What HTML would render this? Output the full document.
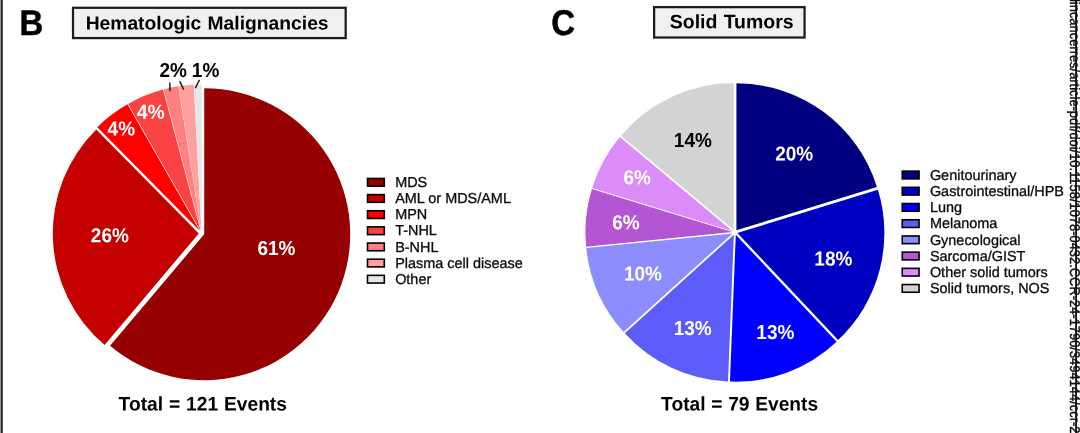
<!DOCTYPE html>
<html><head><meta charset="utf-8"><title>Pie charts</title>
<style>
html,body{margin:0;padding:0;background:#fff;}
body{width:1080px;height:433px;overflow:hidden;position:relative;font-family:"Liberation Sans",sans-serif;}
svg{position:absolute;left:0;top:0;display:block;filter:blur(0.35px)}
svg text{font-family:"Liberation Sans",sans-serif;text-rendering:geometricPrecision;}
</style></head><body>
<svg width="1080" height="433" viewBox="0 0 1080 433">
<rect width="1080" height="433" fill="#fff"/>
<rect x="0.55" y="0" width="2.2" height="433" fill="#1e1e1e"/>
<rect x="73.03" y="7.78" width="272.65" height="30.30" fill="#F0F0F0" stroke="#1c1c1c" stroke-width="2.25"/>
<rect x="654.12" y="7.12" width="150.45" height="30.40" fill="#F0F0F0" stroke="#1c1c1c" stroke-width="2.25"/>
<path d="M204.23 234.26L204.23 88.26A146.0 146.0 0 1 1 110.06 345.83Z" fill="#960000"/>
<path d="M198.80 233.41L104.63 344.98A146.0 146.0 0 0 1 96.24 129.50Z" fill="#C40000"/>
<path d="M199.91 231.07L97.34 127.16A146.0 146.0 0 0 1 127.46 104.32Z" fill="#FF0000"/>
<path d="M200.54 230.71L128.08 103.96A146.0 146.0 0 0 1 163.05 89.60Z" fill="#F94343"/>
<path d="M201.02 230.56L163.54 89.45A146.0 146.0 0 0 1 178.37 86.33Z" fill="#FF8080"/>
<path d="M201.31 230.52L178.66 86.28A146.0 146.0 0 0 1 193.73 84.71Z" fill="#FFA0A0"/>
<path d="M201.53 230.50L193.95 84.70A146.0 146.0 0 0 1 201.53 84.50Z" fill="#E6E6E6"/>
<path d="M736.42 230.30L736.42 83.30A147.0 147.0 0 0 1 876.93 187.10Z" fill="#000080"/>
<path d="M737.37 233.00L877.88 189.81A147.0 147.0 0 0 1 838.16 340.00Z" fill="#0000C0"/>
<path d="M735.79 234.74L836.59 341.74A147.0 147.0 0 0 1 729.95 381.62Z" fill="#0000FF"/>
<path d="M733.82 234.66L727.98 381.54A147.0 147.0 0 0 1 624.84 333.31Z" fill="#5C5CF8"/>
<path d="M732.57 233.38L623.59 332.04A147.0 147.0 0 0 1 586.29 247.97Z" fill="#8C8CFC"/>
<path d="M732.36 232.10L586.09 246.69A147.0 147.0 0 0 1 591.85 188.90Z" fill="#B455D4"/>
<path d="M732.66 231.13L592.15 187.94A147.0 147.0 0 0 1 619.84 136.89Z" fill="#DC8CF8"/>
<path d="M733.82 230.04L621.00 135.80A147.0 147.0 0 0 1 733.82 83.04Z" fill="#D3D3D3"/>
<g stroke="#1a1a1a" stroke-width="1.45" fill="none">
<path d="M169.9 82.5V91.2"/><path d="M179.7 81.1L183.7 89.6"/><path d="M199.4 79.9L195.3 88.3"/>
</g>
<text transform="translate(19.52 34.90) rotate(0.03) scale(0.92 1)" font-size="35.80" font-weight="bold" fill="#000" stroke="#000" stroke-width="0.5">B</text>
<text transform="translate(551.18 34.90) rotate(0.03) scale(0.92 1)" font-size="35.80" font-weight="bold" fill="#000" stroke="#000" stroke-width="0.5">C</text>
<text transform="translate(85.64 29.40) rotate(0.03) scale(1.02 1)" font-size="18.90" font-weight="bold" word-spacing="0.930" fill="#000">Hematologic Malignancies</text>
<text transform="translate(669.71 28.25) rotate(0.03) scale(1.0 1)" font-size="19.50" font-weight="bold" word-spacing="0.854" fill="#000">Solid Tumors</text>
<text transform="translate(118.61 410.50) rotate(0.03) scale(0.977 1)" font-size="19.65" font-weight="bold" word-spacing="0.598" fill="#000">Total = 121 Events</text>
<text transform="translate(661.11 410.40) rotate(0.03) scale(0.977 1)" font-size="19.65" font-weight="bold" word-spacing="0.386" fill="#000">Total = 79 Events</text>
<text transform="translate(257.43 254.95) rotate(0.03) scale(0.94 1)" font-size="20.20" font-weight="bold" fill="#fff">61%</text>
<text transform="translate(90.83 242.25) rotate(0.03) scale(0.94 1)" font-size="20.20" font-weight="bold" fill="#fff">26%</text>
<text transform="translate(107.61 135.55) rotate(0.03) scale(0.94 1)" font-size="20.20" font-weight="bold" fill="#fff">4%</text>
<text transform="translate(137.11 118.65) rotate(0.03) scale(0.94 1)" font-size="20.20" font-weight="bold" fill="#fff">4%</text>
<text transform="translate(159.43 77.05) rotate(0.03) scale(0.94 1)" font-size="20.20" font-weight="bold" fill="#000">2%</text>
<text transform="translate(191.86 77.05) rotate(0.03) scale(0.94 1)" font-size="20.20" font-weight="bold" fill="#000">1%</text>
<text transform="translate(673.86 147.05) rotate(0.03) scale(0.94 1)" font-size="20.20" font-weight="bold" fill="#000">14%</text>
<text transform="translate(775.13 160.45) rotate(0.03) scale(0.94 1)" font-size="20.20" font-weight="bold" fill="#fff">20%</text>
<text transform="translate(814.36 265.45) rotate(0.03) scale(0.94 1)" font-size="20.20" font-weight="bold" fill="#fff">18%</text>
<text transform="translate(756.36 339.05) rotate(0.03) scale(0.94 1)" font-size="20.20" font-weight="bold" fill="#fff">13%</text>
<text transform="translate(673.66 334.95) rotate(0.03) scale(0.94 1)" font-size="20.20" font-weight="bold" fill="#fff">13%</text>
<text transform="translate(623.96 280.45) rotate(0.03) scale(0.94 1)" font-size="20.20" font-weight="bold" fill="#fff">10%</text>
<text transform="translate(612.23 229.15) rotate(0.03) scale(0.94 1)" font-size="20.20" font-weight="bold" fill="#fff">6%</text>
<text transform="translate(623.43 184.35) rotate(0.03) scale(0.94 1)" font-size="20.20" font-weight="bold" fill="#fff">6%</text>
<text x="395.13" y="186.90" font-size="14.45" fill="#0a0a0a" stroke="#0a0a0a" stroke-width="0.3">MDS</text>
<text x="395.13" y="203.05" font-size="14.45" fill="#0a0a0a" stroke="#0a0a0a" stroke-width="0.3">AML or MDS/AML</text>
<text x="395.13" y="219.20" font-size="14.45" fill="#0a0a0a" stroke="#0a0a0a" stroke-width="0.3">MPN</text>
<text x="395.13" y="235.35" font-size="14.45" fill="#0a0a0a" stroke="#0a0a0a" stroke-width="0.3">T-NHL</text>
<text x="395.13" y="251.50" font-size="14.45" fill="#0a0a0a" stroke="#0a0a0a" stroke-width="0.3">B-NHL</text>
<text x="395.13" y="267.65" font-size="14.45" fill="#0a0a0a" stroke="#0a0a0a" stroke-width="0.3">Plasma cell disease</text>
<text x="395.13" y="283.80" font-size="14.45" fill="#0a0a0a" stroke="#0a0a0a" stroke-width="0.3">Other</text>
<text x="929.90" y="179.70" font-size="14.45" fill="#0a0a0a" stroke="#0a0a0a" stroke-width="0.3">Genitourinary</text>
<text x="929.90" y="195.90" font-size="14.45" fill="#0a0a0a" stroke="#0a0a0a" stroke-width="0.3">Gastrointestinal/HPB</text>
<text x="929.90" y="212.10" font-size="14.45" fill="#0a0a0a" stroke="#0a0a0a" stroke-width="0.3">Lung</text>
<text x="929.90" y="228.30" font-size="14.45" fill="#0a0a0a" stroke="#0a0a0a" stroke-width="0.3">Melanoma</text>
<text x="929.90" y="244.50" font-size="14.45" fill="#0a0a0a" stroke="#0a0a0a" stroke-width="0.3">Gynecological</text>
<text x="929.90" y="260.70" font-size="14.45" fill="#0a0a0a" stroke="#0a0a0a" stroke-width="0.3">Sarcoma/GIST</text>
<text x="929.90" y="276.90" font-size="14.45" fill="#0a0a0a" stroke="#0a0a0a" stroke-width="0.3">Other solid tumors</text>
<text x="929.90" y="293.10" font-size="14.45" fill="#0a0a0a" stroke="#0a0a0a" stroke-width="0.3">Solid tumors, NOS</text>
<rect x="367.50" y="178.45" width="16.80" height="7.70" fill="#960000" stroke="#000" stroke-width="1.6"/>
<rect x="367.50" y="194.60" width="16.80" height="7.70" fill="#C40000" stroke="#000" stroke-width="1.6"/>
<rect x="367.50" y="210.75" width="16.80" height="7.70" fill="#FF0000" stroke="#000" stroke-width="1.6"/>
<rect x="367.50" y="226.90" width="16.80" height="7.70" fill="#F94343" stroke="#000" stroke-width="1.6"/>
<rect x="367.50" y="243.05" width="16.80" height="7.70" fill="#FF8080" stroke="#000" stroke-width="1.6"/>
<rect x="367.50" y="259.20" width="16.80" height="7.70" fill="#FFA0A0" stroke="#000" stroke-width="1.6"/>
<rect x="367.50" y="275.35" width="16.80" height="7.70" fill="#E6E6E6" stroke="#000" stroke-width="1.6"/>
<rect x="902.25" y="171.15" width="16.80" height="7.70" fill="#000080" stroke="#000" stroke-width="1.6"/>
<rect x="902.25" y="187.35" width="16.80" height="7.70" fill="#0000C0" stroke="#000" stroke-width="1.6"/>
<rect x="902.25" y="203.55" width="16.80" height="7.70" fill="#0000FF" stroke="#000" stroke-width="1.6"/>
<rect x="902.25" y="219.75" width="16.80" height="7.70" fill="#5C5CF8" stroke="#000" stroke-width="1.6"/>
<rect x="902.25" y="235.95" width="16.80" height="7.70" fill="#8C8CFC" stroke="#000" stroke-width="1.6"/>
<rect x="902.25" y="252.15" width="16.80" height="7.70" fill="#B455D4" stroke="#000" stroke-width="1.6"/>
<rect x="902.25" y="268.35" width="16.80" height="7.70" fill="#DC8CF8" stroke="#000" stroke-width="1.6"/>
<rect x="902.25" y="284.55" width="16.80" height="7.70" fill="#D3D3D3" stroke="#000" stroke-width="1.6"/>
<g transform="translate(1070.2,-1.0) rotate(90) scale(0.9095 1)">
<text x="0" y="0" font-size="14.2" fill="#0a0a0a" stroke="#0a0a0a" stroke-width="0.35">lincancerres/article-pdf/doi/10.1158/1078-0432.CCR-24-1790/3494144/ccr-24-1790</text>
</g>
<rect x="1075.15" y="0" width="1.85" height="433" fill="#111"/>
</svg>
</body></html>
